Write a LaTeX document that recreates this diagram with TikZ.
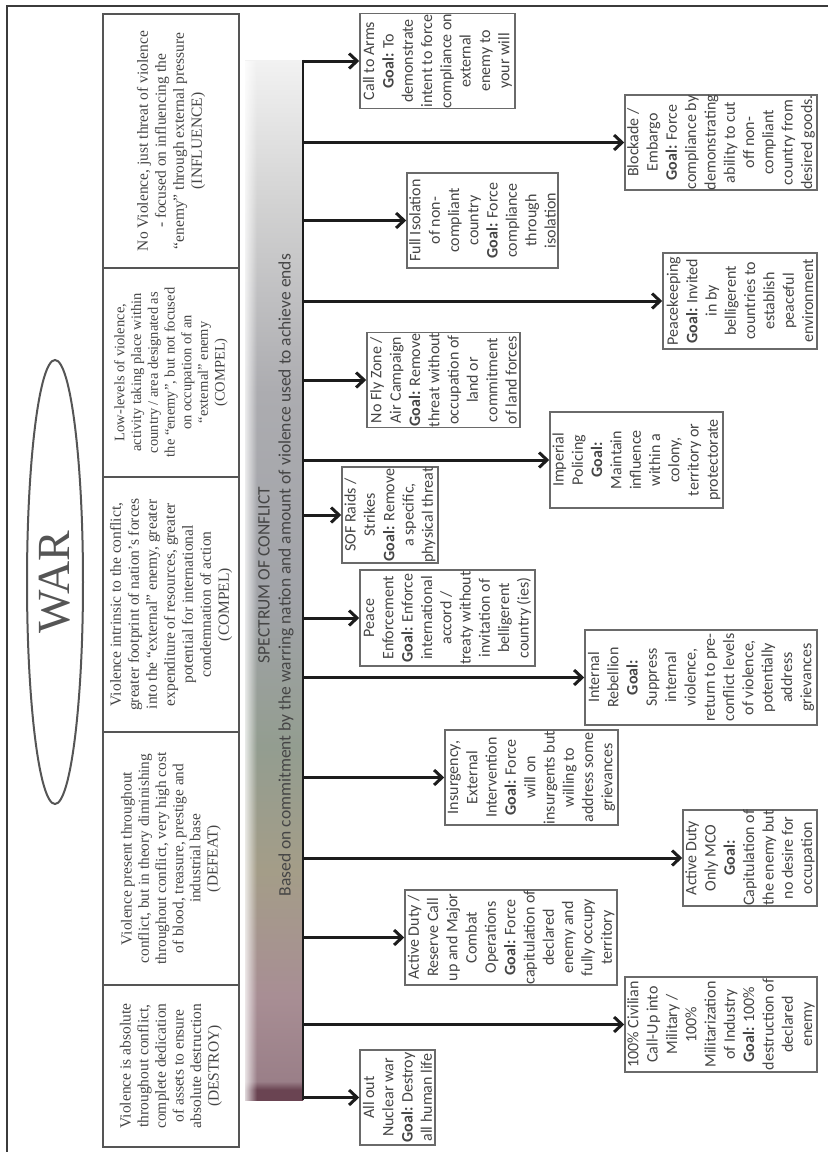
\documentclass[tikz,border=0pt]{standalone}
\usepackage{fontspec}
\setmainfont{Liberation Serif}
\newfontfamily\goalfont{Carlito}
\usetikzlibrary{arrows.meta,shapes.geometric,fadings}

\definecolor{inkgray}{HTML}{454545}
\definecolor{rulegray}{HTML}{555555}
\definecolor{boxgray}{HTML}{6A6A6A}
\definecolor{spokeblack}{HTML}{1C1C1C}
\definecolor{barmaroon}{HTML}{6A4452}
\definecolor{barmauve}{HTML}{9A7F88}
\definecolor{barpink}{HTML}{A88E94}
\definecolor{bartan}{HTML}{A49D88}
\definecolor{bargreen}{HTML}{939D90}
\definecolor{barmid}{HTML}{A1A3A8}
\definecolor{barsteel}{HTML}{ACACB0}
\definecolor{barlight}{HTML}{D2D2D2}
\definecolor{bartop}{HTML}{F2F2F2}

\pgfdeclareverticalshading{spectrumshade}{100bp}{color(0bp)=(barmaroon); color(25bp)=(barmaroon); color(25.5bp)=(barmaroon); color(25.9bp)=(barmauve); color(30bp)=(barpink); color(36bp)=(bartan); color(42bp)=(bargreen); color(49bp)=(barmid); color(59bp)=(barsteel); color(68bp)=(barlight); color(75bp)=(bartop); color(100bp)=(bartop)}

\begin{document}
\begin{tikzpicture}[x=1pt, y=-1pt,
	goal/.style={draw=boxgray, line width=1.5pt, rotate=90, align=center, inner sep=0pt, text=inkgray, font=\goalfont\fontsize{16}{19.3}\selectfont},
	level/.style={draw=rulegray, line width=2pt, rotate=90, align=center, inner sep=0pt, text=inkgray, minimum height=136pt},
	spoke/.style={draw=spokeblack, line width=3pt, -{Straight Barb[length=8pt, width=15pt]}}]
	\useasboundingbox[fill=white] (0,0) rectangle (828,1152);
	% frame
	\draw[line width=2pt, rulegray!70!black] (7,1152) -- (7,6) -- (828,6);
	% title
	\node[ellipse, draw=rulegray, line width=2pt, rotate=90, minimum width=444pt, minimum height=56pt, inner sep=0pt, text=rulegray, font=\fontsize{46}{46}\selectfont] (war) at (55,582) {WAR};
	% levels of violence
	\node[level, minimum width=254pt, font=\fontsize{15.5}{18}\selectfont] (influence) at (171,141) {No Violence, just threat of violence\\- focused on influencing the\\“enemy” through external pressure\\(INFLUENCE)};
	\node[level, minimum width=209pt, font=\fontsize{14.5}{16.7}\selectfont] (compellow) at (171,372.5) {Low-levels of violence,\\activity taking place within\\country / area designated as\\the “enemy”, but not focused\\on occupation of an\\“external” enemy\\(COMPEL)};
	\node[level, minimum width=255pt, font=\fontsize{15.5}{18}\selectfont] (compelhigh) at (171,604.5) {Violence intrinsic to the conflict,\\greater footprint of nation’s forces\\into the “external” enemy, greater\\expenditure of resources, greater\\potential for international\\condemnation of action\\(COMPEL)};
	\node[level, minimum width=253pt, font=\fontsize{15.3}{17.2}\selectfont] (defeat) at (171,858.5) {Violence present throughout\\conflict, but in theory diminishing\\throughout conflict, very high cost\\of blood, treasure, prestige and\\industrial base\\(DEFEAT)};
	\node[level, minimum width=162pt, font=\fontsize{15.5}{17.6}\selectfont] (destroy) at (171,1066) {Violence is absolute\\throughout conflict,\\complete dedication\\of assets to ensure\\absolute destruction\\(DESTROY)};
	% spectrum bar
	\node[shading=spectrumshade, minimum width=58pt, minimum height=1040pt, inner sep=0pt] (bar) at (274,580) {};
	\fill[white, path fading=east, opacity=.8] (bar.north west) rectangle ([xshift=12pt]bar.south west);
	\node[rotate=90, align=center, text=inkgray, font=\goalfont\fontsize{17.5}{21}\selectfont] (bartitle) at (276,575) {SPECTRUM OF CONFLICT\\Based on commitment by the warring nation and amount of violence used to achieve ends};
	\draw[spokeblack, line width=2pt] (bar.north east) -- (bar.south east);
	% goals
	\node[goal, minimum width=94pt, minimum height=155pt] (callarms) at (437.5,61) {Call to Arms\\\textbf{Goal:} To\\demonstrate\\intent to force\\compliance on\\external\\enemy to\\your will};
	\node[goal, minimum width=95pt, minimum height=192pt] (blockade) at (721,142.5) {Blockade /\\Embargo\\\textbf{Goal:} Force\\compliance by\\demonstrating\\ability to cut\\off non-\\compliant\\country from\\desired goods.};
	\node[goal, minimum width=95pt, minimum height=151pt] (isolation) at (482.5,220.5) {Full Isolation\\of non-\\compliant\\country\\\textbf{Goal:} Force\\compliance\\through\\isolation};
	\node[goal, minimum width=96pt, minimum height=154pt] (peacekeeping) at (740,301) {Peacekeeping\\\textbf{Goal:} Invited\\in by\\belligerent\\countries to\\establish\\peaceful\\environment};
	\node[goal, minimum width=94pt, minimum height=153pt] (nofly) at (443.5,380) {No Fly Zone /\\Air Campaign\\\textbf{Goal:} Remove\\threat without\\occupation of\\land or\\commitment\\of land forces};
	\node[goal, minimum width=96pt, minimum height=173pt] (imperial) at (636.5,460) {Imperial\\Policing\\\textbf{Goal:}\\Maintain\\influence\\within a\\colony,\\territory or\\protectorate};
	\node[goal, minimum width=96pt, minimum height=96pt] (sofraids) at (390,515) {SOF Raids /\\Strikes\\\textbf{Goal:} Remove\\a specific,\\physical threat};
	\node[goal, minimum width=96pt, minimum height=175pt] (peaceenf) at (447.5,618) {Peace\\Enforcement\\\textbf{Goal:} Enforce\\international\\accord /\\treaty without\\invitation of\\belligerent\\country (ies)};
	\node[goal, minimum width=95pt, minimum height=232pt] (rebellion) at (701,677.5) {Internal\\Rebellion\\\textbf{Goal:}\\Suppress\\internal\\violence,\\return to pre-\\conflict levels\\of violence,\\potentially\\address\\grievances};
	\node[goal, minimum width=95pt, minimum height=173pt] (insurgency) at (531.5,777.5) {Insurgency,\\External\\Intervention\\\textbf{Goal:} Force\\will on\\insurgents but\\willing to\\address some\\grievances};
	\node[goal, minimum width=96pt, minimum height=134pt] (mco) at (750,858) {Active Duty\\Only MCO\\\textbf{Goal:}\\Capitulation of\\the enemy but\\no desire for\\occupation};
	\node[goal, minimum width=95pt, minimum height=212pt] (reserve) at (511,937.5) {Active Duty /\\Reserve Call\\up and Major\\Combat\\Operations\\\textbf{Goal:} Force\\capitulation of\\declared\\enemy and\\fully occupy\\territory};
	\node[goal, minimum width=95pt, minimum height=192pt] (civilian) at (721,1024.5) {100\% Civilian\\Call-Up into\\Military /\\100\%\\Militarization\\of Industry\\\textbf{Goal:} 100\%\\destruction of\\declared\\enemy};
	\node[goal, minimum width=95pt, minimum height=75pt] (nuclear) at (397.5,1097.5) {All out\\Nuclear war\\\textbf{Goal:} Destroy\\all human life};
	% spokes
	\foreach \g in {callarms, blockade, isolation, peacekeeping, nofly, imperial, sofraids, peaceenf, rebellion, insurgency, mco, reserve, civilian, nuclear}
	\draw[spoke] (\g.north -| bar.east) -- (\g.north);
\end{tikzpicture}
\end{document}
